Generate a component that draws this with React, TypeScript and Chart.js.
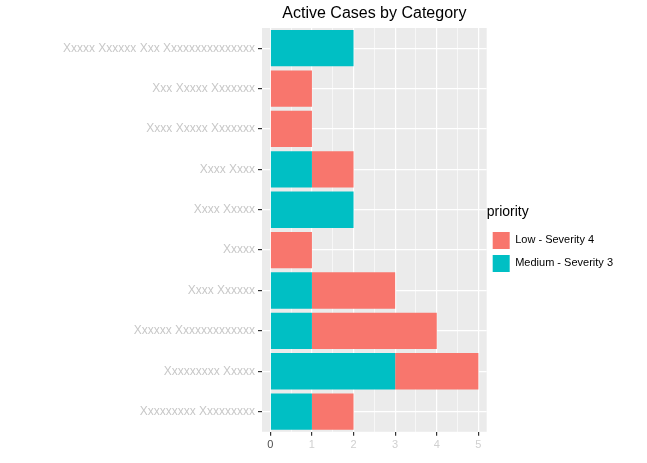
import React, { useEffect, useRef } from "react";
import { Chart, registerables } from "chart.js";

Chart.register(...registerables);

const categories = [
  "Xxxxx Xxxxxx Xxx Xxxxxxxxxxxxxxx",
  "Xxx Xxxxx Xxxxxxx",
  "Xxxx Xxxxx Xxxxxxx",
  "Xxxx Xxxx",
  "Xxxx Xxxxx",
  "Xxxxx",
  "Xxxx Xxxxxx",
  "Xxxxxx Xxxxxxxxxxxxx",
  "Xxxxxxxxx Xxxxx",
  "Xxxxxxxxx Xxxxxxxxx",
];
const mediumValues = [2, 0, 0, 1, 2, 0, 1, 1, 3, 1];
const lowValues = [0, 1, 1, 1, 0, 1, 2, 3, 2, 1];

const App: React.FC = () => {
  const canvasRef = useRef<HTMLCanvasElement | null>(null);

  useEffect(() => {
    if (!canvasRef.current) return;
    const chart = new Chart(canvasRef.current, {
      type: "bar",
      data: {
        labels: categories,
        datasets: [
          { label: "Medium - Severity 3", data: mediumValues, backgroundColor: "#00BFC4", barPercentage: 0.9, categoryPercentage: 1 },
          { label: "Low - Severity 4", data: lowValues, backgroundColor: "#F8766D", barPercentage: 0.9, categoryPercentage: 1 },
        ],
      },
      options: {
        indexAxis: "y",
        animation: false,
        responsive: true,
        maintainAspectRatio: false,
        layout: { padding: { top: 28, right: 6, bottom: 8 } },
        scales: {
          x: {
            stacked: true,
            min: -0.2,
            max: 5.2,
            afterBuildTicks: (axis) => {
              const t = [];
              for (let v = 0; v <= 5; v += 0.5) t.push({ value: v });
              axis.ticks = t;
            },
            grid: {
              color: "#ffffff",
              lineWidth: (c) => (c.tick && Number.isInteger(c.tick.value) ? 1.2 : 0.6),
              tickLength: 4,
              tickColor: (c) => (c.tick && Number.isInteger(c.tick.value) ? "#333" : "rgba(0,0,0,0)"),
            },
            border: { display: false },
            ticks: {
              autoSkip: false,
              maxRotation: 0,
              color: (c) => (c.tick && c.tick.value === 0 ? "#4d4d4d" : "#d0d0d0"),
              font: { family: "Arial", size: 11 },
              callback: (v) => (Number.isInteger(Number(v)) ? String(v) : ""),
            },
          },
          y: {
            stacked: true,
            afterFit: (axis) => {
              axis.width = 262;
            },
            grid: { color: "#ffffff", lineWidth: 1.2, offset: false, tickLength: 4, tickColor: "#333" },
            border: { display: false },
            ticks: { color: "#c8c8c8", font: { family: "Arial", size: 12 } },
          },
        },
        plugins: {
          legend: {
            position: "right",
            reverse: true,
            align: "center",
            title: { display: true, text: "priority", position: "start", color: "#000", font: { family: "Arial", size: 14 }, padding: { top: 0, bottom: 4 } },
            labels: { boxWidth: 17, boxHeight: 17, color: "#000", font: { family: "Arial", size: 11 }, padding: 6 },
          },
          tooltip: { enabled: false },
        },
      },
      plugins: [
        {
          id: "legendPad",
          beforeInit: (c) => {
            const legend = c.legend as any;
            if (!legend) return;
            const orig = legend.fit;
            legend.fit = function () {
              orig.call(this);
              this.width += 18;
            };
          },
        },
        {
          id: "bg",
          beforeDraw: (c) => {
            const { ctx, chartArea } = c;
            ctx.save();
            ctx.fillStyle = "#EBEBEB";
            ctx.fillRect(chartArea.left, chartArea.top, chartArea.right - chartArea.left, chartArea.bottom - chartArea.top);
            ctx.restore();
          },
          afterDraw: (c) => {
            const { ctx, chartArea } = c;
            ctx.save();
            ctx.fillStyle = "#000";
            ctx.font = "16px Arial";
            ctx.textAlign = "center";
            ctx.textBaseline = "middle";
            ctx.fillText("Active Cases by Category", (chartArea.left + chartArea.right) / 2, 14);
            ctx.restore();
          },
        },
      ],
    });
    return () => chart.destroy();
  }, []);

  return (
    <div style={{ position: "fixed", left: 0, top: 0, width: 647, height: 463, background: "#fff" }}>
      <canvas ref={canvasRef}></canvas>
    </div>
  );
};

export default App;
